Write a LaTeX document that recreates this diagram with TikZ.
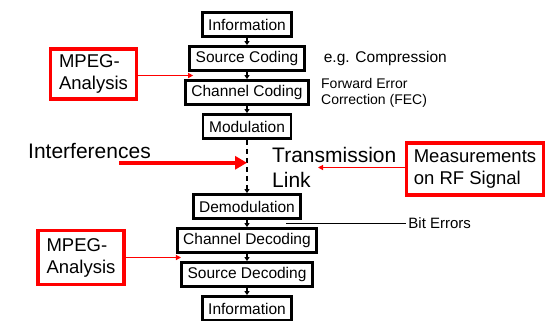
\documentclass[tikz,border=0pt]{standalone}
\usepackage{fontspec}
\setmainfont{Liberation Sans}
\usetikzlibrary{arrows.meta,positioning,calc}
\definecolor{alertred}{HTML}{FF0000}
\newcommand{\fsize}[2]{\fontsize{#1bp}{#2bp}\selectfont}

\begin{document}
\begin{tikzpicture}[x=1bp,y=-1bp,
    stage/.style={draw,line width=2.8bp,fill=white,inner xsep=6bp,inner ysep=2bp,
                  minimum height=24bp,font=\fsize{15.5}{18}},
    probe/.style={draw=alertred,line width=3.2bp,align=left,
                  inner xsep=8.5bp,font=\fsize{18.5}{22}},
    flow/.style={-{Triangle[length=4bp,width=5bp]},line width=1.2bp},
    hint/.style={-{Triangle[length=5bp,width=5bp]},alertred,line width=1.3bp}]
  \useasboundingbox (0,0) rectangle (547,320);

  \node[stage] (info) at (247,24.5) {Information};
  \node[stage,below=7.2bp of info] (src) {Source Coding};
  \node[stage,below=7.2bp of src] (chan) {Channel Coding};
  \node[stage,below=7.2bp of chan] (mod) {Modulation};
  \node[stage] (demod) at (247,206.5) {Demodulation};
  \node[stage,below=7.2bp of demod] (chdec) {Channel Decoding};
  \node[stage,below=7.2bp of chdec] (srcdec) {Source Decoding};
  \node[stage,below=7.2bp of srcdec] (sink) {Information};

  \foreach \a/\b in {info/src,src/chan,chan/mod,demod/chdec,chdec/srcdec,srcdec/sink}
    \draw[flow] (\a) -- (\b);
  \draw[flow,dash pattern=on 5bp off 4bp] (mod.south) -- (demod.north);

  \node[right=18bp of src,inner sep=0pt,font=\fsize{15.5}{18}] (compr) {e.g. Compression};
  \node[right=11bp of chan,inner sep=0pt,align=left,font=\fsize{14}{16}] (fec)
       {Forward Error\\Correction (FEC)};

  \coordinate (errtap) at ($(demod.south east)+(-16,3.5)$);
  \node[right=120bp of errtap,inner sep=2bp,font=\fsize{15}{18}] (biterr) {Bit Errors};
  \draw[line width=1.5bp] (errtap) -- (biterr.west);

  \node[anchor=west,inner sep=0pt,font=\fsize{21}{25}] (interf) at (28,151) {Interferences};
  \coordinate (hit) at ($(mod.south)!0.43!(demod.north)$);
  \coordinate (intfrom) at ($(hit)+(-128,0)$);
  \draw[alertred,line width=4.5bp,-{Triangle[length=12bp,width=13bp]}] (intfrom) -- (hit);

  \node[anchor=west,inner sep=0pt,align=left,font=\fsize{21}{25}] (trans) at (272,167.5)
       {Transmission\\Link};
  \coordinate (linktip) at ($(trans.west)+(46,0)$);
  \node[probe,inner xsep=7.5bp,minimum height=52bp] (meas) at (475,169)
       {Measurements\\on RF Signal};
  \draw[hint] (meas.west |- linktip) -- (linktip);

  \node[probe,minimum height=50bp] (mpegtx) at (93.5,74) {MPEG-\\Analysis};
  \coordinate (srcin) at ($(src.south west)!0.5!(chan.north west)+(7,0)$);
  \draw[hint] (mpegtx.east |- srcin) -- (srcin);

  \node[probe,minimum height=54bp] (mpegrx) at (81,257.5) {MPEG-\\Analysis};
  \coordinate (decin) at ($(chdec.south west)!0.5!(srcdec.north west)+(3,0)$);
  \draw[hint] (mpegrx.east |- decin) -- (decin);
\end{tikzpicture}
\end{document}
